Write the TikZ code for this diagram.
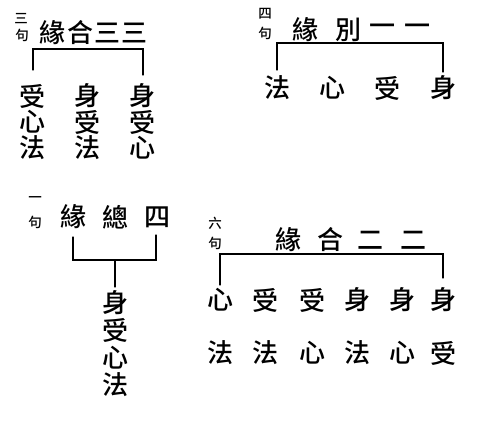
\documentclass[tikz,border=0pt]{standalone}
\usepackage{fontspec}
\newfontfamily\cjk{Noto Sans CJK TC Medium}
\begin{document}
\begin{tikzpicture}[x=1pt,y=-1pt,
  big/.style={inner sep=0pt,font=\cjk\fontsize{26}{26}\selectfont},
  sml/.style={inner sep=0pt,font=\cjk\fontsize{13.5}{13.5}\selectfont},
  ln/.style={line width=1.1pt,line cap=round}]
\useasboundingbox (0,0) rectangle (494,436);
% ---------- group A (top left)
\node[sml] (aS1) at (21,19) {三};
\node[sml] (aS2) at (22,35) {句};
\node[big] (aT1) at (52,33) {緣};
\node[big] (aT2) at (80,33) {合};
\node[big] (aT3) at (107,33) {三};
\node[big] (aT4) at (134,33) {三};
\node[big] (a11) at (32,96) {受};
\node[big] (a12) at (32,122) {心};
\node[big] (a13) at (32,148) {法};
\node[big] (a21) at (87,96) {身};
\node[big] (a22) at (87,122) {受};
\node[big] (a23) at (87,148) {法};
\node[big] (a31) at (142,96) {身};
\node[big] (a32) at (142,122) {受};
\node[big] (a33) at (142,148) {心};
\coordinate (aL) at (33,49);
\coordinate (aR) at (143,49);
\coordinate (aLe) at (33,70);
\coordinate (aRe) at (143,75);
\draw[ln] (aLe) -- (aL) -- (aR) -- (aRe);
% ---------- group B (top right)
\node[sml] (bS1) at (265,14) {四};
\node[sml] (bS2) at (265,33) {句};
\node[big] (bT1) at (305,30) {緣};
\node[big] (bT2) at (348,30) {別};
\node[big] (bT3) at (382,30) {一};
\node[big] (bT4) at (417,30) {一};
\node[big] (b1) at (277,88) {法};
\node[big] (b2) at (332,88) {心};
\node[big] (b3) at (387,88) {受};
\node[big] (b4) at (443,88) {身};
\coordinate (bL) at (277,43);
\coordinate (bR) at (443,43);
\coordinate (bLe) at (277,70);
\coordinate (bRe) at (443,72);
\draw[ln] (bLe) -- (bL) -- (bR) -- (bRe);
% ---------- group C (bottom left)
\node[sml] (cS1) at (35,200) {一};
\node[sml] (cS2) at (35,222) {句};
\node[big] (cT1) at (73,217) {緣};
\node[big] (cT2) at (115,217) {總};
\node[big] (cT3) at (157,217) {四};
\node[big] (c1) at (115,303) {身};
\node[big] (c2) at (115,330) {受};
\node[big] (c3) at (115,358) {心};
\node[big] (c4) at (115,385) {法};
\coordinate (cLs) at (73,237);
\coordinate (cRs) at (156,235);
\coordinate (cL) at (73,260);
\coordinate (cR) at (156,260);
\coordinate (cM) at (115,260);
\coordinate (cMe) at (115,287);
\draw[ln] (cLs) -- (cL) -- (cR) -- (cRs);
\draw[ln] (cM) -- (cMe);
% ---------- group D (bottom right)
\node[sml] (dS1) at (215,223) {六};
\node[sml] (dS2) at (215,243) {句};
\node[big] (dT1) at (288,240) {緣};
\node[big] (dT2) at (330,240) {合};
\node[big] (dT3) at (370,240) {二};
\node[big] (dT4) at (413,240) {二};
\node[big] (d11) at (220,300) {心};
\node[big] (d12) at (265,300) {受};
\node[big] (d13) at (312,300) {受};
\node[big] (d14) at (357,300) {身};
\node[big] (d15) at (402,300) {身};
\node[big] (d16) at (443,300) {身};
\node[big] (d21) at (220,353) {法};
\node[big] (d22) at (265,353) {法};
\node[big] (d23) at (312,353) {心};
\node[big] (d24) at (357,353) {法};
\node[big] (d25) at (402,353) {心};
\node[big] (d26) at (443,353) {受};
\coordinate (dL) at (220,254);
\coordinate (dR) at (443,254);
\coordinate (dLe) at (220,285);
\coordinate (dRe) at (443,278);
\draw[ln] (dLe) -- (dL) -- (dR) -- (dRe);
\end{tikzpicture}
\end{document}
